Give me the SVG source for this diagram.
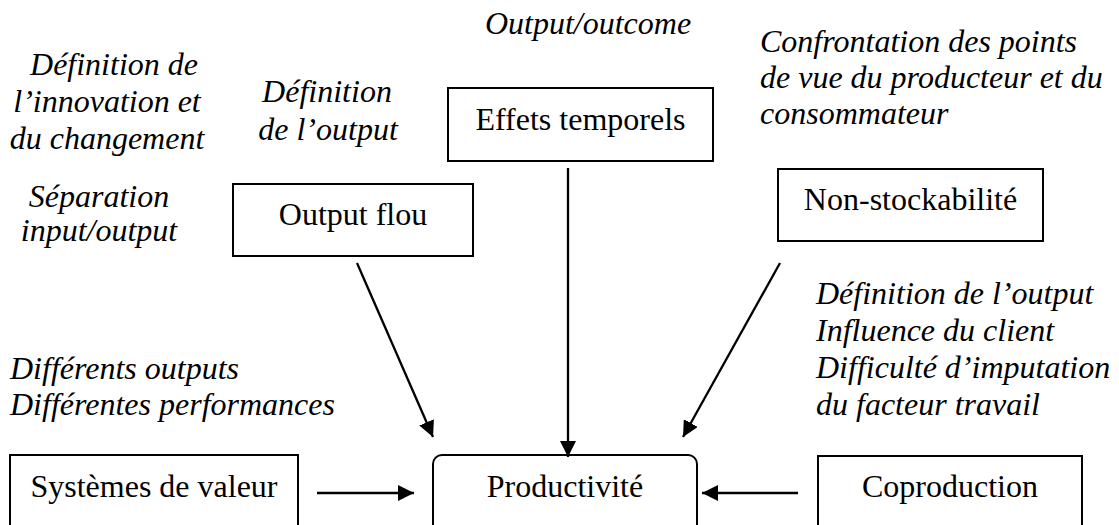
<svg xmlns="http://www.w3.org/2000/svg" width="1119" height="525" viewBox="0 0 1119 525">
<style>
.box{fill:#fff;stroke:#000;stroke-width:2}
.lbl{font-family:"Liberation Serif","Times New Roman",serif;font-size:32px;fill:#000}
.it{font-family:"Liberation Serif","Times New Roman",serif;font-size:32px;font-style:italic;fill:#000}
.c{text-anchor:middle}
.edge{stroke:#000;stroke-width:2.3;fill:none;marker-end:url(#ah)}
</style>
<defs>
<marker id="ah" markerUnits="userSpaceOnUse" markerWidth="16" markerHeight="16" viewBox="0 0 16 16" refX="16" refY="8" orient="auto">
<path d="M0,0 L16,8 L0,16 Z" fill="#000"/>
</marker>
</defs>
<rect width="1119" height="525" fill="#fff"/>

<g id="annotations">
<text class="it c" x="588" y="34">Output/outcome</text>
<text class="it c" x="114" y="75">Définition de</text>
<text class="it c" x="107" y="112">l’innovation et</text>
<text class="it c" x="107" y="149">du changement</text>
<text class="it c" x="327" y="102">Définition</text>
<text class="it c" x="328" y="140">de l’output</text>
<text class="it" x="760" y="52">Confrontation des points</text>
<text class="it" x="760" y="88">de vue du producteur et du</text>
<text class="it" x="760" y="124">consommateur</text>
<text class="it c" x="99" y="207">Séparation</text>
<text class="it c" x="99" y="241">input/output</text>
<text class="it" x="10" y="379">Différents outputs</text>
<text class="it" x="10" y="415">Différentes performances</text>
<text class="it" x="816" y="304">Définition de l’output</text>
<text class="it" x="816" y="341">Influence du client</text>
<text class="it" x="816" y="378">Difficulté d’imputation</text>
<text class="it" x="816" y="415">du facteur travail</text>
</g>

<g id="effets">
<rect class="box" x="448" y="88" width="265" height="73"/>
<text class="lbl c" x="580.5" y="130">Effets temporels</text>
</g>
<g id="outputflou">
<rect class="box" x="233" y="184" width="240" height="72"/>
<text class="lbl c" x="353" y="225">Output flou</text>
</g>
<g id="nonstock">
<rect class="box" x="778" y="169" width="265" height="72"/>
<text class="lbl c" x="910.5" y="210">Non-stockabilité</text>
</g>
<g id="systemes">
<rect class="box" x="10" y="455" width="288" height="90"/>
<text class="lbl c" x="154" y="497">Systèmes de valeur</text>
</g>
<g id="productivite">
<rect class="box" x="433" y="455" width="264" height="90" rx="9" ry="9"/>
<text class="lbl c" x="565" y="497">Productivité</text>
</g>
<g id="coproduction">
<rect class="box" x="818" y="456" width="264" height="90"/>
<text class="lbl c" x="950" y="497">Coproduction</text>
</g>

<g id="connectors">
<line class="edge" x1="568" y1="168" x2="568" y2="457"/>
<line class="edge" x1="357" y1="263" x2="433" y2="437"/>
<line class="edge" x1="780" y1="263" x2="683" y2="437"/>
<line class="edge" x1="317" y1="493" x2="414" y2="493"/>
<line class="edge" x1="798" y1="493" x2="702" y2="493"/>
</g>
</svg>
